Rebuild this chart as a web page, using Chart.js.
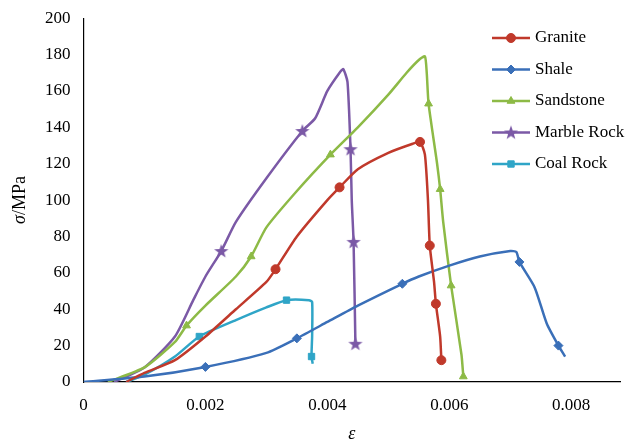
<!DOCTYPE html>
<html><head><meta charset="utf-8">
<script src="https://cdn.jsdelivr.net/npm/chart.js@4"></script>
<style>html,body{margin:0;background:#fff}#w{width:640px;height:445px}</style>
</head><body><div id="w"><canvas id="c"></canvas></div>
<script>
const seriesNames=["Granite","Shale","Sandstone","Marble Rock","Coal Rock"];
const colors=["#c0392b","#3a6fb8","#8dba46","#7b59a6","#2fa5c7"];
const granite=[[0.0007,0],[0.001,5],[0.0015,12],[0.002,25],[0.0025,40],[0.003,55],[0.00315,62],[0.0035,80],[0.004,100],[0.0042,107],[0.0045,117],[0.005,126],[0.0054,131],[0.00552,132],[0.0056,125],[0.00565,100],[0.00568,75],[0.00575,55],[0.00578,43],[0.00585,25],[0.00587,12]];
const graniteMarks=[6,9,13,16,18,20];
const shale=[[0,0],[0.001,3],[0.002,8.3],[0.003,16],[0.0035,24],[0.004,33],[0.0045,42],[0.00523,54],[0.0055,58],[0.006,64],[0.0065,69],[0.007,72],[0.0071,71.5],[0.00715,66],[0.0074,52],[0.0076,32],[0.00779,20],[0.0079,14]];
const shaleMarks=[2,4,7,13,16];
const sandstone=[[0.0004,0],[0.001,8],[0.0015,22],[0.00169,31],[0.002,42],[0.0025,58],[0.00275,69],[0.003,85],[0.0035,105],[0.00405,125],[0.0045,140],[0.005,158],[0.0053,170],[0.0055,177],[0.0056,179],[0.00563,170],[0.00566,153],[0.0058,120],[0.00585,106],[0.0059,88],[0.00603,53],[0.0062,15],[0.00623,3]];
const sandstoneMarks=[3,6,9,16,18,20,22];
const marble=[[0.0005,0],[0.001,8],[0.0015,25],[0.0018,45],[0.002,58],[0.00226,72],[0.0025,88],[0.003,112],[0.00359,138],[0.0038,145],[0.004,160],[0.0042,170],[0.00426,172],[0.00433,165],[0.00438,128],[0.0044,100],[0.00443,77],[0.00446,21]];
const marbleMarks=[5,8,14,16,17];
const coal=[[0.0007,0],[0.001,4],[0.0015,14],[0.0019,25],[0.0025,34],[0.003,41],[0.00333,45],[0.0037,45],[0.00375,44],[0.00375,25],[0.00374,14],[0.00376,10]];
const coalMarks=[3,6,10];
const all=[granite,shale,sandstone,marble,coal];
const marks=[graniteMarks,shaleMarks,sandstoneMarks,marbleMarks,coalMarks];
const xTicks=[0,0.002,0.004,0.006,0.008];
function starImg(col){const s=document.createElement('canvas');s.width=16;s.height=16;const c=s.getContext('2d');c.fillStyle=col;c.beginPath();
for(let k=0;k<10;k++){const r=k%2?3:7.5,a=-Math.PI/2+k*Math.PI/5;c.lineTo(8+r*Math.cos(a),8.5+r*Math.sin(a));}c.closePath();c.fill();return s;}
const shapes=["circle","rectRot","triangle",starImg(colors[3]),"rect"];
const datasets=all.map((d,i)=>({label:seriesNames[i],data:d.map(p=>({x:p[0],y:p[1]})),borderColor:colors[i],backgroundColor:colors[i],borderWidth:2.5,tension:0.2,pointStyle:shapes[i],pointRadius:d.map((p,j)=>marks[i].includes(j)?4.5:0),pointBorderWidth:1}));
const deco={id:'deco',afterDraw(ch){const c=ch.ctx;c.save();c.font='17px "Liberation Serif"';c.textBaseline='middle';
seriesNames.forEach((n,i)=>{const y=38+i*31.5,x0=492,x1=530;c.strokeStyle=colors[i];c.fillStyle=colors[i];c.lineWidth=2.5;c.beginPath();c.moveTo(x0,y);c.lineTo(x1,y);c.stroke();c.lineWidth=1;
Chart.helpers.drawPoint(c,{pointStyle:shapes[i],radius:4.5,borderWidth:1},(x0+x1)/2,y);
c.fillStyle='#000';c.fillText(n,535,y);});
c.translate(20,200);c.rotate(-Math.PI/2);c.textAlign='left';c.font='italic 18px "Liberation Serif"';const w1=c.measureText('σ').width;c.font='18px "Liberation Serif"';const w2=c.measureText('/MPa').width;
let x=-(w1+w2)/2;c.font='italic 18px "Liberation Serif"';c.fillText('σ',x,0);c.font='18px "Liberation Serif"';c.fillText('/MPa',x+w1,0);
c.restore();}};
new Chart(document.getElementById('c'),{type:'line',data:{datasets},plugins:[deco],
options:{responsive:true,maintainAspectRatio:false,animation:false,layout:{padding:{left:37,right:20,top:7,bottom:0}},
plugins:{legend:{display:false},tooltip:{enabled:false}},
scales:{x:{type:'linear',min:0,max:0.0088,afterBuildTicks:s=>{s.ticks=xTicks.map(v=>({value:v}))},
ticks:{padding:8,color:'#000',font:{family:'Liberation Serif',size:17},callback:v=>v===0?'0':v.toFixed(3)},grid:{display:false,tickLength:5},border:{color:'#000',width:1.2},
title:{display:true,text:'ε',font:{family:'Liberation Serif',size:18,style:'italic'},color:'#000',padding:{top:0,bottom:0}}},
y:{min:0,max:200,ticks:{padding:8,stepSize:20,color:'#000',font:{family:'Liberation Serif',size:17}},grid:{display:false,tickLength:5},border:{color:'#000',width:1.2}}}}});
</script></body></html>
